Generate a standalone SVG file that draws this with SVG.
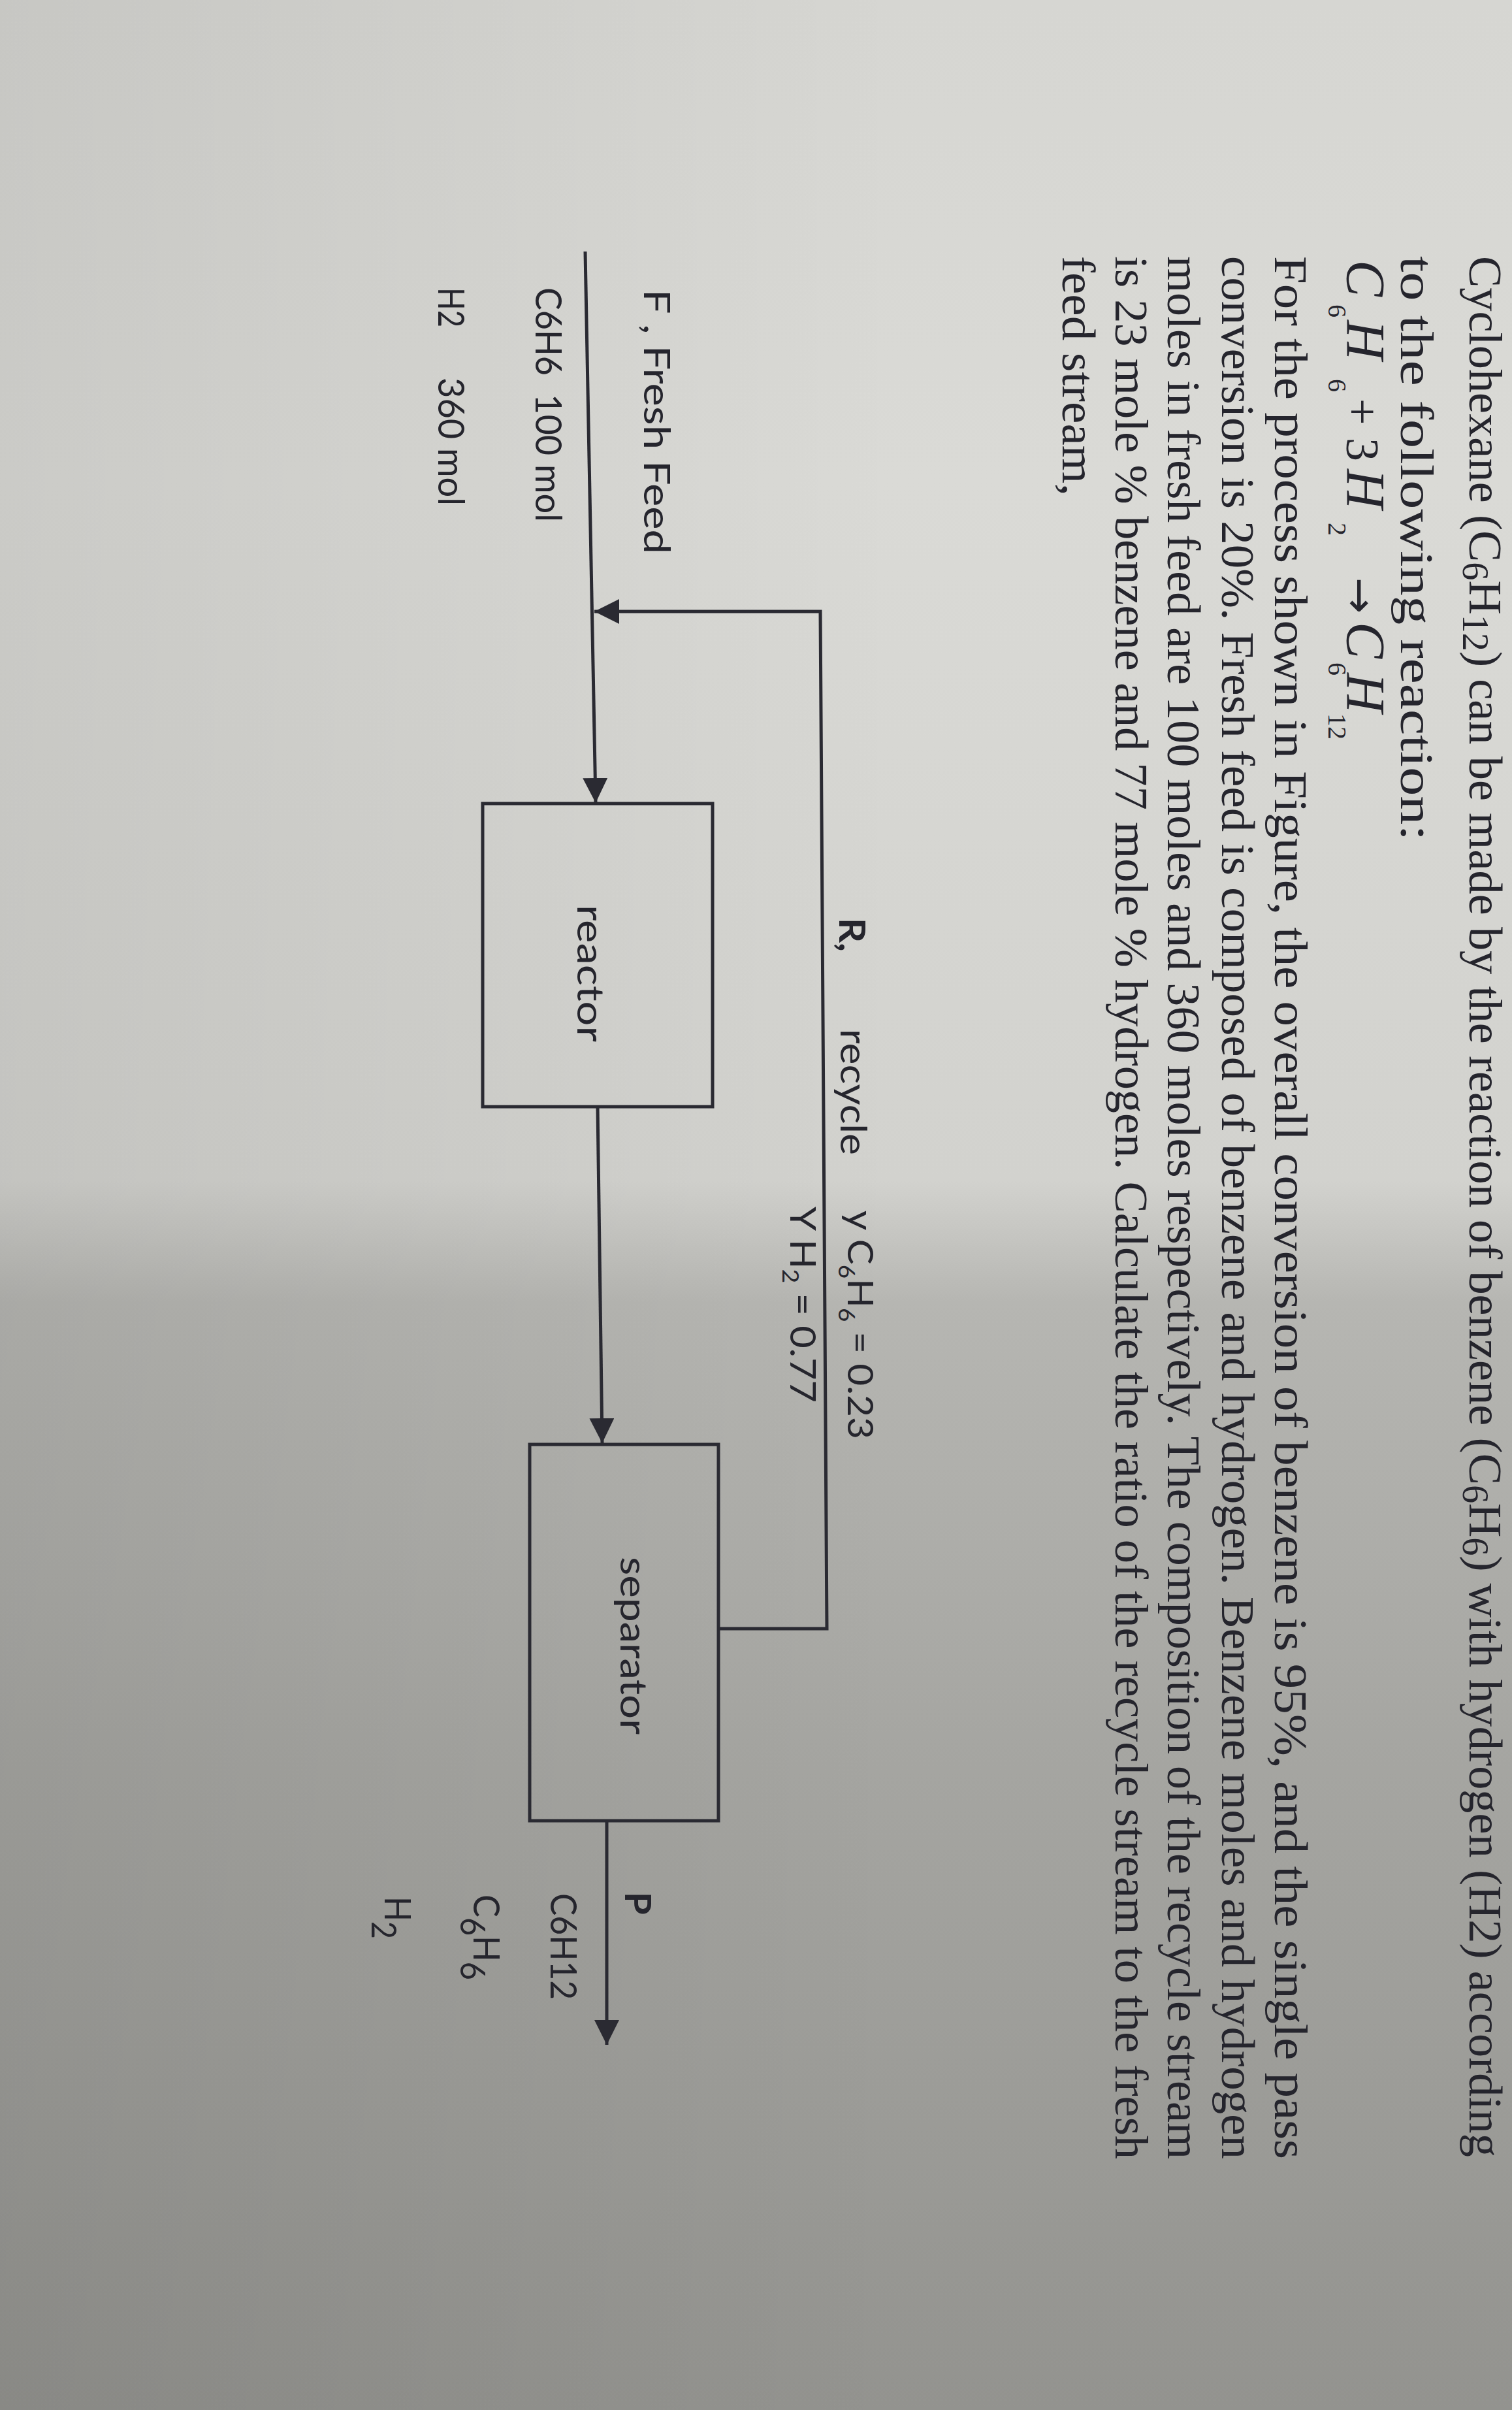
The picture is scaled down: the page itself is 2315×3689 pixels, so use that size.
<svg xmlns="http://www.w3.org/2000/svg" width="2315" height="3689" viewBox="0 0 2315 3689">
<defs>
  <linearGradient id="bg" x1="0" y1="0" x2="0" y2="1">
    <stop offset="0" stop-color="#d6d6d2"/>
    <stop offset="0.2" stop-color="#dadad6"/>
    <stop offset="0.49" stop-color="#d2d2ce"/>
    <stop offset="0.54" stop-color="#b6b6b2"/>
    <stop offset="0.72" stop-color="#a6a6a2"/>
    <stop offset="1" stop-color="#93938f"/>
  </linearGradient>
  <linearGradient id="side" x1="0" y1="0" x2="1" y2="0">
    <stop offset="0" stop-color="#000" stop-opacity="0.07"/>
    <stop offset="0.6" stop-color="#000" stop-opacity="0"/>
  </linearGradient>
  <marker id="arrow" markerUnits="userSpaceOnUse" markerWidth="40" markerHeight="40" refX="38" refY="19" orient="auto">
    <path d="M0,0 L38,19 L0,38 z" fill="#2a2a32"/>
  </marker>
  <style>
    .body { font-family: "Liberation Serif", "Times New Roman", serif; font-size: 72px; fill: #25252d; }
    .it { font-style: italic; font-size: 84px; }
    .sub { font-size: 40px; }
    .arr { font-family: "DejaVu Sans", "Liberation Serif", sans-serif; font-size: 66px; fill: #25252d; }
    .lbl { font-family: Lato, "Open Sans", "Liberation Sans", sans-serif; font-size: 56px; fill: #25252d; }
    .sm { font-size: 54px; }
    .b { font-weight: bold; }
    .ln { fill: none; stroke: #2a2a32; stroke-width: 5; }
    .box { fill: none; stroke: #2a2a32; stroke-width: 5; }
  </style>
</defs>

<rect x="0" y="0" width="2315" height="3689" fill="url(#bg)"/>
<rect x="0" y="0" width="2315" height="3689" fill="url(#side)"/>

<!-- problem statement (rotated page text) -->
<g id="statement" transform="rotate(90)">
  <text class="body" x="392" y="-2250" textLength="2910" lengthAdjust="spacingAndGlyphs">Cyclohexane (C<tspan font-size="56" dy="10">6</tspan><tspan dy="-10">H</tspan><tspan font-size="56" dy="10">12</tspan><tspan dy="-10">) can be made by the reaction of benzene (C</tspan><tspan font-size="56" dy="10">6</tspan><tspan dy="-10">H</tspan><tspan font-size="56" dy="10">6</tspan><tspan dy="-10">) with hydrogen (H2) according</tspan></text>
  <text class="body" x="392" y="-2145" textLength="895" lengthAdjust="spacingAndGlyphs">to the following reaction:</text>
  <g id="formula">
    <text class="body it" x="398" y="-2062">C</text>
    <text class="body sub" x="466" y="-2034">6</text>
    <text class="body it" x="490" y="-2062">H</text>
    <text class="body sub" x="580" y="-2034">6</text>
    <text class="body" x="610" y="-2062" font-size="76">+</text>
    <text class="body" x="670" y="-2062" font-size="78">3</text>
    <text class="body it" x="718" y="-2062">H</text>
    <text class="body sub" x="800" y="-2034">2</text>
    <text class="arr" x="884" y="-2060">→</text>
    <text class="body it" x="952" y="-2062">C</text>
    <text class="body sub" x="1014" y="-2034">6</text>
    <text class="body it" x="1030" y="-2062">H</text>
    <text class="body sub" x="1092" y="-2034">12</text>
  </g>
  <text class="body" x="392" y="-1952" textLength="2913" lengthAdjust="spacingAndGlyphs">For the process shown in Figure,  the overall conversion of benzene is 95%, and the single pass</text>
  <text class="body" x="392" y="-1871" textLength="2913" lengthAdjust="spacingAndGlyphs">conversion is 20%. Fresh feed is composed of benzene and hydrogen. Benzene moles and hydrogen</text>
  <text class="body" x="392" y="-1788" textLength="2913" lengthAdjust="spacingAndGlyphs">moles in fresh feed are 100 moles and 360 moles respectively. The composition of the recycle stream</text>
  <text class="body" x="392" y="-1708" textLength="2913" lengthAdjust="spacingAndGlyphs">is 23 mole % benzene and 77 mole % hydrogen. Calculate the ratio of the recycle stream to the fresh</text>
  <text class="body" x="392" y="-1627" textLength="367" lengthAdjust="spacingAndGlyphs">feed stream,</text>
</g>

<!-- connectors -->
<g id="connectors">
  <path class="ln" d="M896,385 L912,1229" marker-end="url(#arrow)"/>
  <path class="ln" d="M1100,2493 L1266,2493 L1256,936 L910,936" marker-end="url(#arrow)"/>
  <path class="ln" d="M915,1694 L922,2209" marker-end="url(#arrow)"/>
  <path class="ln" d="M929,2788 L929,3130" marker-end="url(#arrow)"/>
</g>

<!-- nodes -->
<g id="reactor">
  <rect class="box" x="739" y="1230" width="352" height="464"/>
  <text class="lbl" transform="rotate(90)" x="1385" y="-884" textLength="210" lengthAdjust="spacingAndGlyphs">reactor</text>
</g>
<g id="separator">
  <rect class="box" x="811" y="2211" width="289" height="576"/>
  <text class="lbl" transform="rotate(90)" x="2383" y="-950" textLength="272" lengthAdjust="spacingAndGlyphs">separator</text>
</g>

<!-- stream labels -->
<g id="feed-labels" transform="rotate(90)">
  <text class="lbl" x="443" y="-986" textLength="405" lengthAdjust="spacingAndGlyphs">F , Fresh Feed</text>
  <text class="lbl" x="440" y="-820" textLength="135" lengthAdjust="spacingAndGlyphs">C6H6</text>
  <text class="lbl" x="603" y="-820" textLength="196" lengthAdjust="spacingAndGlyphs">100 mol</text>
  <text class="lbl" x="440" y="-671" textLength="61" lengthAdjust="spacingAndGlyphs">H2</text>
  <text class="lbl" x="578" y="-671" textLength="196" lengthAdjust="spacingAndGlyphs">360 mol</text>
</g>
<g id="recycle-labels" transform="rotate(90)">
  <text class="lbl b" x="1405" y="-1285" textLength="52" lengthAdjust="spacingAndGlyphs">R,</text>
  <text class="lbl" x="1575" y="-1287" textLength="193" lengthAdjust="spacingAndGlyphs">recycle</text>
  <text class="lbl sm" x="1853" y="-1298" textLength="350" lengthAdjust="spacingAndGlyphs">y C<tspan font-size="34" dy="14">6</tspan><tspan dy="-14">H</tspan><tspan font-size="34" dy="14">6</tspan><tspan dy="-14"> = 0.23</tspan></text>
  <text class="lbl sm" x="1847" y="-1210" textLength="300" lengthAdjust="spacingAndGlyphs">Y H<tspan font-size="34" dy="12">2</tspan><tspan dy="-12"> = 0.77</tspan></text>
</g>
<g id="product-labels" transform="rotate(90)">
  <text class="lbl b" x="2896" y="-957">P</text>
  <text class="lbl" x="2898" y="-843" textLength="163" lengthAdjust="spacingAndGlyphs">C6H12</text>
  <text class="lbl" x="2900" y="-725" textLength="131" lengthAdjust="spacingAndGlyphs">C<tspan font-size="52" dy="20">6</tspan><tspan dy="-20">H</tspan><tspan font-size="52" dy="20">6</tspan></text>
  <text class="lbl" x="2903" y="-589" textLength="65" lengthAdjust="spacingAndGlyphs">H<tspan font-size="52" dy="20">2</tspan></text>
</g>
</svg>
